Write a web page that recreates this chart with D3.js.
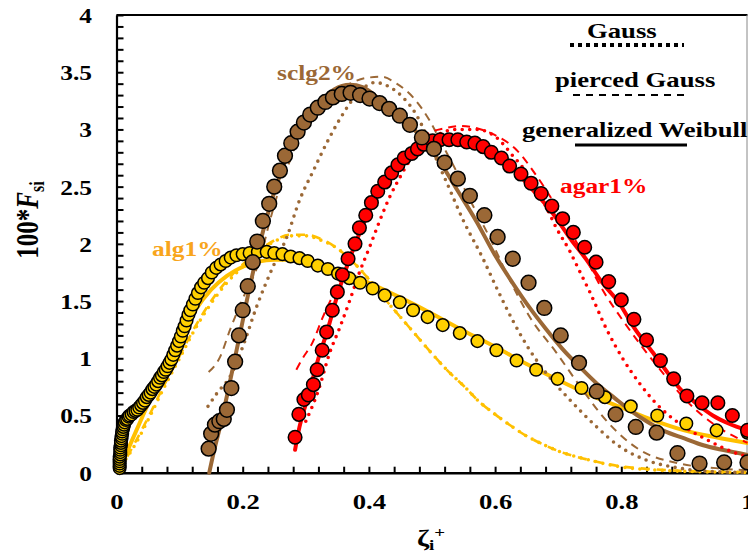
<!DOCTYPE html>
<html><head><meta charset="utf-8">
<script src="https://cdn.jsdelivr.net/npm/d3@7"></script>
<style>body{margin:0;background:#fff}svg{display:block}text{font-family:"Liberation Serif","Times New Roman",serif;font-weight:bold}</style>
</head><body>
<svg id="c" width="748" height="554"></svg>
<script>
// ---- tick labels ----
const xTickValues = [0, 0.2, 0.4, 0.6, 0.8, 1];
const xTickLabels = ["0", "0.2", "0.4", "0.6", "0.8", "1"];
const yTickValues = [0, 0.5, 1, 1.5, 2, 2.5, 3, 3.5, 4];
const yTickLabels = ["0", "0.5", "1", "1.5", "2", "2.5", "3", "3.5", "4"];
const seriesNames = ["alg1%", "sclg2%", "agar1%"];
const legendNames = ["Gauss", "pierced Gauss", "generalized Weibull"];

// ---- measured data (markers) ----
const alg1Data = [[0.005,0.04],[0.005,0.06],[0.005,0.08],[0.005,0.10],[0.005,0.12],[0.005,0.14],[0.006,0.16],[0.006,0.18],[0.006,0.20],[0.006,0.22],[0.007,0.24],[0.007,0.26],[0.007,0.28],[0.008,0.30],[0.008,0.32],[0.009,0.34],[0.009,0.36],[0.010,0.38],[0.011,0.40],[0.012,0.42],[0.013,0.44],[0.015,0.46],[0.017,0.47],[0.019,0.49],[0.021,0.50],[0.024,0.51],[0.027,0.53],[0.030,0.54],[0.033,0.55],[0.036,0.57],[0.039,0.59],[0.042,0.61],[0.045,0.63],[0.048,0.66],[0.051,0.68],[0.054,0.70],[0.057,0.73],[0.060,0.75],[0.063,0.77],[0.066,0.80],[0.069,0.83],[0.072,0.85],[0.075,0.88],[0.078,0.90],[0.081,0.93],[0.084,0.96],[0.087,0.99],[0.090,1.03],[0.093,1.07],[0.096,1.11],[0.099,1.15],[0.102,1.19],[0.105,1.24],[0.108,1.28],[0.111,1.33],[0.114,1.38],[0.117,1.42],[0.121,1.47],[0.125,1.52],[0.129,1.57],[0.134,1.62],[0.139,1.66],[0.145,1.70],[0.151,1.75],[0.158,1.79],[0.165,1.82],[0.173,1.85],[0.181,1.88],[0.190,1.90],[0.200,1.91],[0.211,1.92],[0.224,1.93],[0.238,1.93],[0.250,1.92],[0.263,1.91],[0.276,1.89],[0.290,1.875],[0.303,1.85],[0.319,1.81],[0.335,1.78],[0.351,1.74],[0.369,1.70],[0.386,1.66],[0.406,1.61],[0.425,1.55],[0.449,1.49],[0.470,1.42],[0.493,1.36],[0.517,1.29],[0.544,1.22],[0.572,1.15],[0.602,1.07],[0.634,0.98],[0.665,0.90],[0.699,0.82],[0.737,0.74],[0.774,0.66],[0.815,0.58],[0.857,0.50],[0.903,0.43],[0.951,0.37],[1.0,0.35]];
const sclg2Data = [[0.146,0.21],[0.150,0.34],[0.156,0.42],[0.163,0.45],[0.170,0.47],[0.175,0.55],[0.182,0.74],[0.188,0.97],[0.194,1.20],[0.200,1.42],[0.208,1.63],[0.216,1.84],[0.223,2.02],[0.232,2.20],[0.242,2.35],[0.250,2.50],[0.259,2.64],[0.267,2.77],[0.277,2.88],[0.287,2.98],[0.297,3.06],[0.307,3.13],[0.319,3.19],[0.331,3.24],[0.343,3.28],[0.357,3.31],[0.371,3.32],[0.386,3.30],[0.401,3.27],[0.417,3.23],[0.432,3.18],[0.449,3.12],[0.465,3.04],[0.484,2.93],[0.503,2.83],[0.520,2.71],[0.541,2.57],[0.560,2.42],[0.583,2.25],[0.604,2.06],[0.628,1.87],[0.653,1.66],[0.678,1.44],[0.704,1.20],[0.733,0.96],[0.761,0.71],[0.791,0.51],[0.823,0.40],[0.856,0.35],[0.889,0.17],[0.924,0.08],[0.963,0.09],[1.0,0.09]];
const agar1Data = [[0.283,0.31],[0.289,0.51],[0.297,0.64],[0.304,0.68],[0.312,0.77],[0.318,0.90],[0.326,1.07],[0.333,1.23],[0.342,1.42],[0.350,1.58],[0.358,1.73],[0.367,1.87],[0.378,2.00],[0.385,2.14],[0.395,2.25],[0.404,2.36],[0.414,2.46],[0.425,2.54],[0.436,2.62],[0.446,2.69],[0.456,2.75],[0.468,2.79],[0.477,2.83],[0.487,2.87],[0.501,2.90],[0.513,2.91],[0.527,2.91],[0.541,2.91],[0.555,2.89],[0.568,2.88],[0.581,2.85],[0.594,2.80],[0.610,2.75],[0.623,2.68],[0.641,2.61],[0.657,2.53],[0.673,2.44],[0.690,2.33],[0.707,2.22],[0.724,2.10],[0.742,1.97],[0.760,1.84],[0.780,1.67],[0.800,1.51],[0.820,1.34],[0.840,1.16],[0.862,0.98],[0.883,0.82],[0.904,0.67],[0.928,0.61],[0.953,0.61],[0.976,0.50],[1.0,0.37]];

// ---- fitted curves ----
const alg1Gauss = [[0.015,0.12],[0.03,0.25],[0.05,0.46],[0.075,0.74],[0.1,1.0],[0.125,1.26],[0.15,1.48],[0.175,1.66],[0.2,1.8],[0.225,1.93],[0.25,2.02],[0.275,2.07],[0.3,2.07],[0.325,2.03],[0.35,1.96],[0.375,1.84],[0.4,1.69],[0.425,1.52],[0.45,1.36],[0.475,1.2],[0.5,1.04],[0.525,0.89],[0.55,0.76],[0.575,0.62],[0.6,0.51],[0.625,0.41],[0.65,0.32],[0.675,0.25],[0.7,0.19],[0.75,0.11],[0.8,0.05],[0.85,0.025],[0.9,0.012],[1.0,0.003]];
const alg1Pierced = [[0.017,0.14],[0.03,0.27],[0.05,0.48],[0.075,0.76],[0.1,1.02],[0.125,1.28],[0.15,1.5],[0.175,1.68],[0.2,1.82],[0.225,1.94],[0.25,2.03],[0.275,2.08],[0.3,2.08],[0.325,2.04],[0.35,1.96],[0.375,1.84],[0.4,1.69],[0.425,1.52],[0.45,1.36],[0.475,1.2],[0.5,1.04],[0.525,0.89],[0.55,0.76],[0.575,0.62],[0.6,0.51],[0.625,0.41],[0.65,0.32],[0.675,0.25],[0.7,0.19],[0.75,0.11],[0.8,0.055],[0.85,0.03],[0.9,0.015],[1.0,0.005]];
const alg1Weibull = [[0.01,0.1],[0.03,0.35],[0.05,0.6],[0.075,0.9],[0.1,1.17],[0.125,1.42],[0.15,1.6],[0.175,1.72],[0.2,1.8],[0.225,1.845],[0.25,1.86],[0.275,1.86],[0.3,1.84],[0.35,1.77],[0.4,1.66],[0.45,1.53],[0.5,1.39],[0.55,1.24],[0.6,1.1],[0.65,0.95],[0.7,0.81],[0.75,0.68],[0.8,0.57],[0.85,0.46],[0.9,0.37],[0.95,0.31],[1.0,0.26]];
const sclg2Gauss = [[0.145,0.58],[0.16,0.70],[0.18,0.84],[0.2,1.1],[0.222,1.45],[0.248,1.8],[0.27,2.06],[0.29,2.38],[0.312,2.64],[0.333,2.88],[0.355,3.1],[0.38,3.3],[0.41,3.41],[0.433,3.37],[0.454,3.28],[0.476,3.12],[0.492,2.94],[0.507,2.74],[0.523,2.54],[0.55,2.2],[0.58,1.88],[0.602,1.62],[0.628,1.33],[0.655,1.07],[0.681,0.87],[0.718,0.64],[0.761,0.4],[0.797,0.23],[0.84,0.11],[0.892,0.04],[0.945,0.01],[1.0,0.003]];
const sclg2Pierced = [[0.146,0.88],[0.164,1.01],[0.18,1.25],[0.2,1.52],[0.227,1.86],[0.243,2.2],[0.259,2.5],[0.275,2.73],[0.29,2.97],[0.317,3.17],[0.343,3.3],[0.37,3.4],[0.395,3.45],[0.42,3.46],[0.444,3.40],[0.47,3.28],[0.496,3.08],[0.517,2.86],[0.539,2.63],[0.555,2.44],[0.571,2.27],[0.591,2.06],[0.62,1.72],[0.655,1.36],[0.697,1.05],[0.734,0.76],[0.777,0.45],[0.829,0.2],[0.892,0.08],[0.95,0.04],[1.0,0.02]];
const sclg2Weibull = [[0.147,0.0],[0.155,0.2],[0.165,0.42],[0.18,0.8],[0.196,1.22],[0.211,1.62],[0.227,2.0],[0.246,2.38],[0.27,2.76],[0.29,3.02],[0.317,3.21],[0.345,3.35],[0.37,3.39],[0.39,3.37],[0.422,3.24],[0.45,3.12],[0.48,2.95],[0.512,2.72],[0.54,2.47],[0.57,2.2],[0.6,1.9],[0.63,1.64],[0.655,1.44],[0.68,1.26],[0.707,1.08],[0.735,0.92],[0.761,0.78],[0.79,0.65],[0.813,0.55],[0.84,0.45],[0.866,0.37],[0.9,0.3],[0.93,0.24],[0.96,0.2],[1.0,0.155]];
const agar1Gauss = [[0.30,0.45],[0.32,0.72],[0.338,1.05],[0.354,1.27],[0.37,1.51],[0.385,1.75],[0.401,1.97],[0.417,2.2],[0.433,2.41],[0.449,2.58],[0.465,2.73],[0.485,2.86],[0.508,2.95],[0.539,3.0],[0.571,3.0],[0.602,2.93],[0.628,2.77],[0.65,2.62],[0.665,2.47],[0.681,2.32],[0.697,2.14],[0.718,1.94],[0.734,1.76],[0.75,1.58],[0.777,1.25],[0.802,1.0],[0.829,0.78],[0.856,0.6],[0.892,0.43],[0.935,0.29],[0.982,0.17],[1.0,0.14]];
const agar1Pierced = [[0.285,0.9],[0.295,1.0],[0.31,1.13],[0.327,1.36],[0.349,1.62],[0.37,1.88],[0.39,2.15],[0.412,2.38],[0.433,2.58],[0.454,2.76],[0.476,2.88],[0.496,2.97],[0.52,3.01],[0.545,3.03],[0.571,3.01],[0.6,2.95],[0.634,2.82],[0.665,2.6],[0.691,2.38],[0.718,2.12],[0.745,1.86],[0.77,1.6],[0.8,1.35],[0.833,1.1],[0.866,0.87],[0.903,0.63],[0.945,0.43],[1.0,0.26]];
const agar1Weibull = [[0.283,0.2],[0.29,0.4],[0.3,0.6],[0.31,0.8],[0.32,1.0],[0.333,1.22],[0.35,1.55],[0.375,1.95],[0.4,2.28],[0.425,2.52],[0.45,2.7],[0.475,2.83],[0.5,2.91],[0.525,2.94],[0.55,2.93],[0.575,2.88],[0.6,2.8],[0.625,2.68],[0.65,2.53],[0.691,2.27],[0.72,2.04],[0.745,1.86],[0.77,1.66],[0.797,1.48],[0.82,1.27],[0.85,1.05],[0.87,0.9],[0.892,0.74],[0.92,0.6],[0.945,0.5],[0.97,0.43],[1.0,0.37]];

// ---- layout / styles ----
const FONT_STRETCH = 1.27;
const svg = d3.select("#c");
const X = d3.scaleLinear().domain([0, 1]).range([116.5, 747.5]);
const Y = d3.scaleLinear().domain([0, 4]).range([472.7, 15]);
const brown = "#9B6836", red = "#FF0000", yel = "#FFC000", yelFill = "#FFD000", algLab = "#F8A51C";

// frame
svg.append("line").attr("x1", X(0)).attr("x2", X(1)).attr("y1", Y(4)).attr("y2", Y(4)).attr("stroke", "#000").attr("stroke-width", 2);
svg.append("line").attr("x1", X(1)-0.5).attr("x2", X(1)-0.5).attr("y1", Y(4)).attr("y2", Y(0)).attr("stroke", "#888").attr("stroke-width", 1);

// axes (minor ticks inside)
const yAx = svg.append("g").attr("transform", `translate(${X(0)},0)`)
  .call(d3.axisLeft(Y).tickValues(d3.range(0, 41).map(i => i / 10)).tickSizeInner(-7).tickSizeOuter(0).tickFormat(""));
yAx.select(".domain").attr("stroke-width", 2.2);
yAx.selectAll(".tick line").attr("stroke-width", 2);
const xAx = svg.append("g").attr("transform", `translate(0,${Y(0)})`)
  .call(d3.axisBottom(X).tickValues(d3.range(0, 26).map(i => i * 0.04)).tickSizeInner(-6).tickSizeOuter(0).tickFormat(""));
xAx.select(".domain").attr("stroke-width", 2.5);
xAx.selectAll(".tick line").attr("stroke-width", 2);

// tick labels
const yLab = svg.append("g").attr("transform", `translate(${X(0)},0)`)
  .call(d3.axisLeft(Y).tickValues(yTickValues).tickSize(0).tickFormat((d, i) => yTickLabels[i]));
yLab.select(".domain").remove();
yLab.selectAll("text").attr("x", null).attr("dy", null).attr("text-anchor", "end")
  .attr("transform", `translate(-24.5,7.5) scale(${FONT_STRETCH},1)`).attr("font-size", 20)
  .attr("font-family", "Liberation Serif").attr("font-weight", "bold").attr("fill", "#000");
const xLab = svg.append("g").attr("transform", `translate(0,${Y(0)})`)
  .call(d3.axisBottom(X).tickValues(xTickValues).tickSize(0).tickFormat((d, i) => xTickLabels[i]));
xLab.select(".domain").remove();
xLab.selectAll("text").attr("y", null).attr("dy", null).attr("text-anchor", "middle")
  .attr("transform", `translate(0,36) scale(${FONT_STRETCH},1)`).attr("font-size", 21)
  .attr("font-family", "Liberation Serif").attr("font-weight", "bold").attr("fill", "#000");

// axis titles
const xt = svg.append("text").attr("transform", `translate(417,546) scale(${FONT_STRETCH},1)`).attr("font-size", 23);
xt.append("tspan").text("ζ");
xt.append("tspan").attr("font-size", 15).attr("dy", 4).text("i");
xt.append("tspan").attr("font-size", 15).attr("dy", -13).text("+");
const yt = svg.append("text").attr("transform", `translate(38,220) scale(${FONT_STRETCH},1) rotate(-90)`)
  .attr("text-anchor", "middle").attr("font-size", 25);
yt.append("tspan").text("100*");
yt.append("tspan").attr("font-style", "italic").text("F");
yt.append("tspan").attr("font-size", 16).attr("dy", 5).text("si");

// lines
const line = d3.line().x(d => X(d[0])).y(d => Y(d[1])).curve(d3.curveMonotoneX);
const styles = {
  gauss:   {w: 3.6, dash: "0,7.5", cap: "round"},
  pierced: {w: 2, dash: "8,6", cap: "butt"},
  weibull: {w: 4, dash: null, cap: "round"}
};
function drawLine(data, color, st) {
  svg.append("path").attr("d", line(data)).attr("fill", "none").attr("stroke", color)
    .attr("stroke-width", st.w).attr("stroke-dasharray", st.dash).attr("stroke-linecap", st.cap);
}
drawLine(alg1Gauss, yel, styles.gauss);
drawLine(alg1Pierced, yel, {w: 2.6, dash: "9,7", cap: "butt"});
drawLine(alg1Weibull, yel, styles.weibull);
drawLine(sclg2Gauss, brown, styles.gauss);
drawLine(sclg2Pierced, brown, styles.pierced);
drawLine(sclg2Weibull, brown, styles.weibull);
drawLine(agar1Gauss, red, styles.gauss);
drawLine(agar1Pierced, red, styles.pierced);
drawLine(agar1Weibull, red, styles.weibull);

// markers
function drawPts(data, fill, r) {
  svg.append("g").selectAll("circle").data(data).join("circle")
    .attr("cx", d => X(d[0])).attr("cy", d => Y(d[1])).attr("r", r)
    .attr("fill", fill).attr("stroke", "#000").attr("stroke-width", 1.5);
}
drawPts(alg1Data, yelFill, 6.3);
drawPts(agar1Data, red, 6.8);
drawPts(sclg2Data, brown, 7.4);

// series labels
function lab(t, x, y, c) {
  svg.append("text").attr("transform", `translate(${x},${y}) scale(${FONT_STRETCH},1)`)
    .attr("font-size", 20).attr("fill", c).text(t);
}
lab(seriesNames[1], 277, 80, brown);
lab(seriesNames[2], 560, 193, red);
lab(seriesNames[0], 152, 256, algLab);

// legend
const legY = [38, 87, 137], legX = [587, 555, 522];
legendNames.forEach((n, i) => {
  svg.append("text").attr("transform", `translate(${legX[i]},${legY[i]}) scale(${FONT_STRETCH},1)`)
    .attr("font-size", 21).attr("fill", "#000").text(n);
});
svg.append("line").attr("x1", 570).attr("x2", 684).attr("y1", 45).attr("y2", 45).attr("stroke", "#000").attr("stroke-width", 4).attr("stroke-dasharray", "4,4");
svg.append("line").attr("x1", 573).attr("x2", 686).attr("y1", 95).attr("y2", 95).attr("stroke", "#000").attr("stroke-width", 2).attr("stroke-dasharray", "7,6");
svg.append("line").attr("x1", 575).attr("x2", 687).attr("y1", 145).attr("y2", 145).attr("stroke", "#000").attr("stroke-width", 3);
</script>
</body></html>
